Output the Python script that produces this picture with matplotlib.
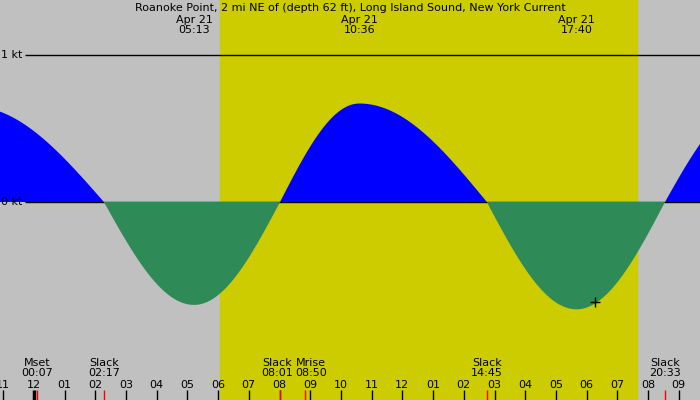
import matplotlib
matplotlib.use("Agg")
import matplotlib.pyplot as plt
import numpy as np

# tide events: hours after midnight Apr 21, speed in knots
event_hours = [-2.0, 2.283, 5.217, 8.017, 10.6, 14.75, 17.667, 20.55, 23.3]
event_kt = [0.65, 0.0, -0.70, 0.0, 0.67, 0.0, -0.73, 0.0, 0.65]

sunrise, sunset = 6.06, 19.64
peak_labels = [(5.217, "Apr 21\n05:13"), (10.6, "Apr 21\n10:36"), (17.667, "Apr 21\n17:40")]
bottom_labels = [(0.117, "Mset\n00:07"), (2.283, "Slack\n02:17"), (8.017, "Slack\n08:01"),
                 (8.833, "Mrise\n08:50"), (14.75, "Slack\n14:45"), (20.55, "Slack\n20:33")]
hour_ticks = list(range(-1, 22))

x0, x1 = -1.1, 21.69
W, H = 700, 400
FS = 8
PPH = W / (x1 - x0)  # pixels per hour


def curve(h):
    out = np.zeros_like(h)
    for (ha, va), (hb, vb) in zip(zip(event_hours, event_kt), zip(event_hours[1:], event_kt[1:])):
        m = (h >= ha) & (h <= hb)
        t = (h[m] - ha) / (hb - ha)
        if va == 0:
            out[m] = vb * np.sin(np.pi / 2 * t)
        else:
            out[m] = va * np.cos(np.pi / 2 * t)
    return out


fig = plt.figure(figsize=(7, 4), dpi=100)
ax = fig.add_axes([0, 0, 1, 1])
ax.set_xlim(x0, x1)
ax.set_ylim((202 - 400) / 147, 202 / 147)
ax.axis("off")
fig.patch.set_facecolor("#c0c0c0")
ax.axvspan(sunrise, sunset, color="#cccc00", zorder=0)

xpx = lambda px: x0 + px / PPH
ypx = lambda py: (202 - py) / 147
ax.hlines([1, 0], xpx(25), x1, color="black", lw=1, zorder=1)
ax.text(xpx(1), 1, "1 kt", fontsize=FS, va="center", ha="left", zorder=3)
ax.text(xpx(1), 0, "0 kt", fontsize=FS, va="center", ha="left", zorder=3)

h = np.linspace(x0, x1, 2000)
v = curve(h)
ax.fill_between(h, 0, v, where=v >= 0, color="#0000ff", lw=0, zorder=2)
ax.fill_between(h, 0, v, where=v <= 0, color="#2e8b57", lw=0, zorder=2)
ax.plot(17.667 + 0.6, -0.68, marker="+", color="black", ms=7, mew=1, zorder=3)

ax.text(xpx(350), ypx(8),
        "Roanoke Point, 2 mi NE of (depth 62 ft), Long Island Sound, New York Current",
        ha="center", va="center", fontsize=FS)
for hh, s in peak_labels:
    ax.text(hh, ypx(25), s, ha="center", va="center", fontsize=FS, linespacing=0.95)
nudge = {2: -3, 3: 6}
for i, (hh, s) in enumerate(bottom_labels):
    ax.text(hh + nudge.get(i, 0) / PPH, ypx(368), s, ha="center", va="center",
            fontsize=FS, linespacing=0.95)

ybot = ax.get_ylim()[0]
tick_len = 10 / 147
for hh in hour_ticks:
    ax.text(hh, ypx(385), f"{hh % 12 if hh % 12 else 12:02d}", ha="center",
            va="center", fontsize=FS)
    ax.vlines(hh, ybot, ybot + tick_len, color="black", lw=2.5 if hh == 0 else 1)
for hh, _ in bottom_labels:
    ax.vlines(hh, ybot, ybot + tick_len, color="red", lw=1)

fig.savefig("out.png", dpi=100, facecolor=fig.get_facecolor())
